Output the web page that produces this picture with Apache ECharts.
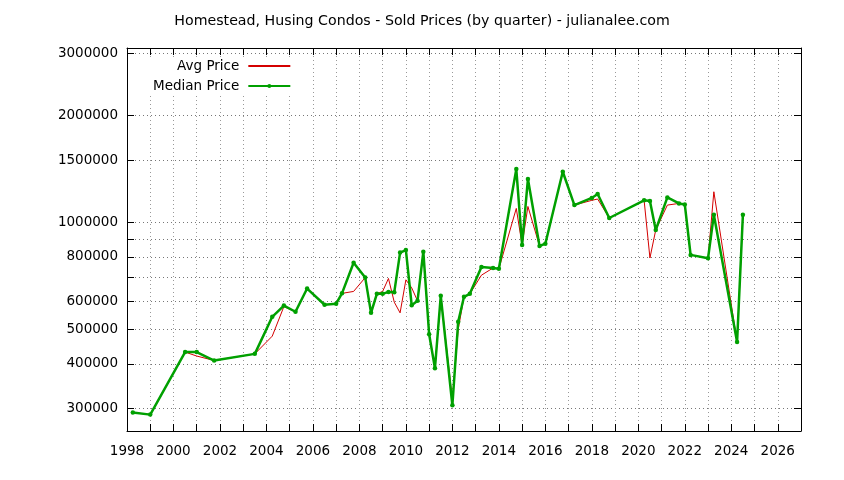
<!DOCTYPE html>
<html lang="en" style="height: 100%">
<head>
  <meta charset="utf-8">
</head>
<body style="height: 100%; margin: 0; background: #fff">
  <div id="container" style="height: 100%"></div>

  <script type="text/javascript" src="https://cdn.jsdelivr.net/npm/echarts@6/dist/echarts.min.js"></script>

  <script type="text/javascript">
    // quarters as decimal years
    var quarters = [
      1998.25, 1999.0, 2000.5, 2001.0, 2001.75, 2003.5, 2004.25, 2004.75, 2005.25, 2005.75,
      2006.5, 2007.0, 2007.25, 2007.75, 2008.25, 2008.5, 2008.75, 2009.0, 2009.25, 2009.5,
      2009.75, 2010.0, 2010.25, 2010.5, 2010.75, 2011.0, 2011.25, 2011.5, 2012.0, 2012.25,
      2012.5, 2012.75, 2013.25, 2013.75, 2014.0, 2014.75, 2015.0, 2015.25, 2015.75, 2016.0,
      2016.75, 2017.25, 2018.0, 2018.25, 2018.75, 2020.25, 2020.5, 2020.75, 2021.25, 2021.75,
      2022.0, 2022.25, 2023.0, 2023.25, 2024.25, 2024.5
    ];
    var avgPrice = [
      292000, 288000, 432000, 421000, 409000, 427000, 479000, 580000, 561000, 652000,
      587000, 591000, 632000, 640000, 700000, 557000, 630000, 640000, 696000, 597000,
      557000, 690000, 655000, 602000, 828000, 485000, 389000, 622000, 318000, 500000,
      618000, 630000, 711000, 745000, 741000, 1096000, 865000, 1110000, 859000, 872000,
      1390000, 1120000, 1155000, 1165000, 1030000, 1155000, 795000, 953000, 1120000, 1132000,
      1125000, 811000, 793000, 1221000, 461000, 1052000
    ];
    var medianPrice = [
      292000, 288000, 432000, 432000, 409000, 427000, 543000, 584000, 561000, 652000,
      587000, 591000, 632000, 771000, 700000, 557000, 630000, 630000, 638000, 637000,
      823000, 837000, 585000, 602000, 828000, 485000, 389000, 622000, 306000, 526000,
      618000, 630000, 750000, 745000, 741000, 1414000, 865000, 1326000, 859000, 872000,
      1390000, 1120000, 1173000, 1203000, 1030000, 1155000, 1150000, 953000, 1177000, 1132000,
      1125000, 811000, 793000, 1052000, 461000, 1052000
    ];
    var yLabelValues = [300000, 400000, 500000, 600000, 800000, 1000000, 1500000, 2000000, 3000000];
    var yTickValues = [300000, 400000, 500000, 600000, 700000, 800000, 900000, 1000000, 1500000, 2000000, 3000000];

    var FONT = 'DejaVu Sans';

    function pairs(xs, ys) {
      return xs.map(function (x, i) { return [x, ys[i]]; });
    }

    var dom = document.getElementById('container');
    var myChart = echarts.init(dom, null, { renderer: 'canvas' });
    var option;

    option = {
      backgroundColor: '#fff',
      animation: false,
      title: {
        text: 'Homestead, Husing Condos - Sold Prices (by quarter) - julianalee.com',
        left: 'center',
        top: 9,
        textStyle: { fontFamily: FONT, fontSize: 14.2, fontWeight: 'normal', color: '#000' }
      },
      grid: { left: 127, right: 43, top: 48, bottom: 49 },
      legend: {
        orient: 'vertical',
        left: 132,
        top: 58,
        align: 'right',
        backgroundColor: '#fff',
        padding: [1, 6, 2, 21],
        itemGap: 6,
        itemWidth: 42,
        itemHeight: 5,
        textStyle: { fontFamily: FONT, fontSize: 13.5, color: '#000', width: 92, align: 'right', padding: [0, 4, 0, 0] },
        data: [
          { name: 'Avg Price', itemStyle: { opacity: 0 } },
          { name: 'Median Price' }
        ]
      },
      xAxis: [
        {
          type: 'value',
          min: 1998,
          max: 2027,
          interval: 1,
          axisLine: { lineStyle: { color: '#000', width: 1 } },
          axisTick: { inside: true, length: 7, lineStyle: { color: '#000' } },
          axisLabel: {
            margin: 13,
            fontFamily: FONT, fontSize: 13.5, color: '#000',
            formatter: function (v) { return v % 2 === 0 ? String(v) : ''; }
          },
          splitLine: { show: true, lineStyle: { color: '#999', width: 1, type: [1, 3] } }
        },
        {
          type: 'value',
          position: 'top',
          min: 1998,
          max: 2027,
          interval: 1,
          axisLine: { lineStyle: { color: '#000', width: 1 } },
          axisTick: { inside: true, length: 7, lineStyle: { color: '#000' } },
          axisLabel: { show: false },
          splitLine: { show: false }
        }
      ],
      yAxis: [
        {
          type: 'log',
          logBase: 10,
          min: 259000,
          max: 3100000,
          axisLine: { show: true, lineStyle: { color: '#000', width: 1 } },
          axisTick: { show: true, inside: true, length: 7, customValues: yTickValues, lineStyle: { color: '#000' } },
          axisLabel: {
            customValues: yLabelValues,
            margin: 9,
            fontFamily: FONT, fontSize: 13.5, color: '#000',
            formatter: function (v) { return String(Math.round(v)); }
          },
          splitLine: { show: true, lineStyle: { color: '#777', width: 1, type: [1, 3] } }
        },
        {
          type: 'log',
          logBase: 10,
          position: 'right',
          min: 259000,
          max: 3100000,
          axisLine: { show: true, lineStyle: { color: '#000', width: 1 } },
          axisTick: { show: true, inside: true, length: 7, customValues: yTickValues, lineStyle: { color: '#000' } },
          axisLabel: { show: false },
          splitLine: { show: false }
        }
      ],
      series: [
        {
          name: 'Avg Price',
          type: 'line',
          xAxisIndex: 0,
          yAxisIndex: 0,
          data: pairs(quarters, avgPrice),
          symbol: 'none',
          color: '#d40000',
          lineStyle: { color: '#d40000', width: 1 }
        },
        {
          name: 'Median Price',
          type: 'line',
          xAxisIndex: 0,
          yAxisIndex: 0,
          data: pairs(quarters, medianPrice),
          symbol: 'circle',
          symbolSize: 4.5,
          showAllSymbol: true,
          color: '#00a000',
          itemStyle: { color: '#00a000' },
          lineStyle: { color: '#00a000', width: 2.5 }
        }
      ]
    };

    if (option && typeof option === 'object') {
      myChart.setOption(option);
    }

    window.addEventListener('resize', myChart.resize);
  </script>
</body>
</html>
